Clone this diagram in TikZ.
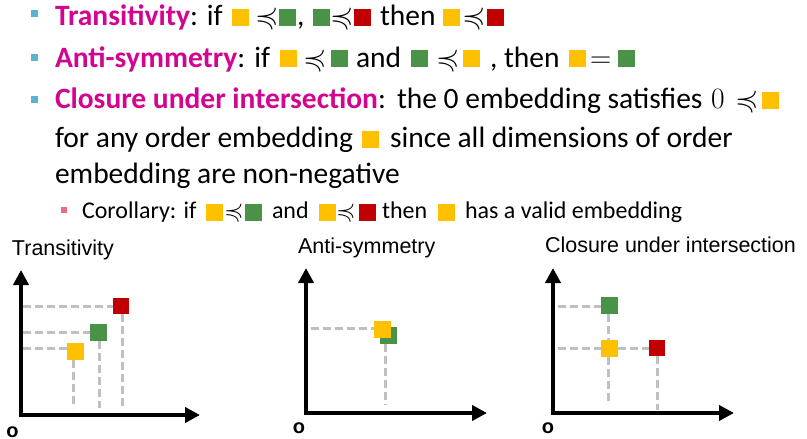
\RequirePackage{fix-cm}
\documentclass[tikz,border=0pt]{standalone}
\usepackage{fontspec}
\usepackage{amssymb}
\DeclareFontFamily{U}{msa}{}
\DeclareFontShape{U}{msa}{m}{n}{<-> msam10}{}
\setmainfont{Carlito}
\newfontfamily\arialf{Liberation Sans}
\usetikzlibrary{arrows.meta}
\definecolor{cyel}{HTML}{FFC000}
\definecolor{cgrn}{HTML}{4A9248}
\definecolor{cred}{HTML}{C00000}
\definecolor{cmag}{HTML}{D1058F}
\definecolor{cbul}{HTML}{5AB4CF}
\definecolor{csub}{HTML}{E8707E}
\definecolor{cdash}{HTML}{C0C0C0}
\newcommand{\pcq}{$\preccurlyeq$}
\tikzset{
 mtxt/.style={anchor=base west, inner sep=0pt, outer sep=0pt, font=\fontsize{29.5}{35}\selectfont},
 stxt/.style={anchor=base west, inner sep=0pt, outer sep=0pt, font=\fontsize{24}{29}\selectfont},
 mrel/.style={anchor=base west, inner sep=0pt, outer sep=0pt, font=\fontsize{30}{36}\selectfont},
 srel/.style={anchor=base west, inner sep=0pt, outer sep=0pt, font=\fontsize{25}{30}\selectfont},
 dtxt/.style={anchor=base west, inner sep=0pt, outer sep=0pt, font=\arialf\fontsize{21.5}{26}\selectfont},
 olab/.style={inner sep=0pt, font=\arialf\bfseries\fontsize{20}{24}\selectfont},
 sqm/.style={rectangle, inner sep=0pt, outer sep=0pt, minimum width=16.5pt, minimum height=17pt, anchor=south west},
 sqs/.style={rectangle, inner sep=0pt, outer sep=0pt, minimum size=17pt, anchor=south west},
 sqd/.style={rectangle, inner sep=0pt, outer sep=0pt, minimum size=17pt},
 bul/.style={rectangle, inner sep=0pt, minimum size=7pt, fill=cbul},
 subbul/.style={rectangle, inner sep=0pt, minimum size=6pt, fill=csub},
 axis/.style={line width=4pt, {Triangle[width=15pt,length=15pt]}-{Triangle[width=15pt,length=15pt]}},
 guide/.style={draw=cdash, line width=3pt, dash pattern=on 8pt off 4pt},
}
\begin{document}
\begin{tikzpicture}[x=1pt,y=-1pt]
\useasboundingbox (0,0) rectangle (807,439);
% ---------- bullets
\node[bul] (b1) at (34.5,13.5) {};
\node[bul] (b2) at (34.5,57.5) {};
\node[bul] (b3) at (34.5,99) {};
\node[subbul] (b4) at (64,210) {};
% ---------- line 1
\node[mtxt] (l1a) at (55,25) {\textcolor{cmag}{\bfseries Transitivity}: if};
\node[sqm,fill=cyel] (l1s1) at (232,26) {};
\node[mrel] (l1p1) at (255,25) {\pcq};
\node[sqm,fill=cgrn] (l1s2) at (279,26) {};
\node[mtxt] (l1c) at (297,25) {,};
\node[sqm,fill=cgrn] (l1s3) at (313,26) {};
\node[mrel] (l1p2) at (330,25) {\pcq};
\node[sqm,fill=cred] (l1s4) at (354,26) {};
\node[mtxt] (l1t) at (380,25) {then};
\node[sqm,fill=cyel] (l1s5) at (443,26) {};
\node[mrel] (l1p3) at (462,25) {\pcq};
\node[sqm,fill=cred] (l1s6) at (487,26) {};
% ---------- line 2
\node[mtxt] (l2a) at (55,67) {\textcolor{cmag}{\bfseries Anti-symmetry}: if};
\node[sqm,fill=cyel] (l2s1) at (280,67) {};
\node[mrel] (l2p1) at (303,67) {\pcq};
\node[sqm,fill=cgrn] (l2s2) at (331,67) {};
\node[mtxt] (l2b) at (356,67) {and};
\node[sqm,fill=cgrn] (l2s3) at (411,67) {};
\node[mrel] (l2p2) at (436,67) {\pcq};
\node[sqm,fill=cyel] (l2s4) at (463,67) {};
\node[mtxt] (l2c) at (490,67) {, then};
\node[sqm,fill=cyel] (l2s5) at (569,67) {};
\node[mtxt] (l2e) at (590,67) {$=$};
\node[sqm,fill=cgrn] (l2s6) at (618,67) {};
% ---------- line 3-5
\node[mtxt] (l3a) at (55,108) {\textcolor{cmag}{\bfseries Closure under intersection}:};
\node[mtxt] (l3b) at (397,108) {the 0 embedding satisfies};
\node[mtxt] (l3z) at (711,108) {$0$};
\node[mrel] (l3p) at (735,108) {\pcq};
\node[sqm,fill=cyel] (l3s) at (762,109) {};
\node[mtxt] (l4a) at (55,147) {for any order embedding};
\node[sqm,fill=cyel] (l4s) at (362,148) {};
\node[mtxt] (l4b) at (390,147) {since all dimensions of order};
\node[mtxt] (l5a) at (55,183) {embedding are non-negative};
% ---------- corollary
\node[stxt] (l6a) at (82,218) {Corollary: if};
\node[sqs,fill=cyel] (l6s1) at (206,221) {};
\node[srel] (l6p1) at (224,218) {\pcq};
\node[sqs,fill=cgrn] (l6s2) at (245,221) {};
\node[stxt] (l6b) at (272,218) {and};
\node[sqs,fill=cyel] (l6s3) at (319,221) {};
\node[srel] (l6p2) at (336,218) {\pcq};
\node[sqs,fill=cred] (l6s4) at (359,221) {};
\node[stxt] (l6c) at (382,218) {then};
\node[sqs,fill=cyel] (l6s5) at (438,221) {};
\node[stxt] (l6d) at (465,218) {has a valid embedding};
% ---------- diagram titles
\node[dtxt] (t1) at (12,255) {Transitivity};
\node[dtxt] (t2) at (298,253) {Anti-symmetry};
\node[dtxt] (t3) at (545,252) {Closure under intersection};
% ---------- diagram 1
\coordinate (o1) at (21,415);
\coordinate (u1) at (21,270);
\coordinate (r1) at (200,415);
\draw[axis] (u1) -- (o1) -- (r1);
\node[olab] (ol1) at (12.5,432) {o};
\node[sqd,fill=cyel] (d1y) at (75.5,351.5) {};
\node[sqd,fill=cgrn] (d1g) at (98.5,332.5) {};
\node[sqd,fill=cred,minimum size=16pt] (d1r) at (121,306) {};
\coordinate (h1r) at (23,306);
\coordinate (v1r) at (122,408);
\coordinate (h1g) at (23,332);
\coordinate (v1g) at (99,408);
\coordinate (h1y) at (23,348);
\coordinate (v1y) at (73,408);
\draw[guide] (h1r) -- (h1r -| d1r.west);
\draw[guide] (v1r |- d1r.south) -- (v1r);
\draw[guide] (h1g) -- (h1g -| d1g.west);
\draw[guide] (v1g |- d1g.south) -- (v1g);
\draw[guide] (h1y) -- (h1y -| d1y.west);
\draw[guide] (v1y |- d1y.south) -- (v1y);
% ---------- diagram 2
\coordinate (o2) at (306,413);
\coordinate (u2) at (306,268);
\coordinate (r2) at (487,413);
\draw[axis] (u2) -- (o2) -- (r2);
\node[olab] (ol2) at (299,428) {o};
\node[sqd,fill=cgrn] (d2g) at (388,335.5) {};
\node[sqd,fill=cyel] (d2y) at (382.5,329.5) {};
\coordinate (h2) at (311,328);
\coordinate (v2) at (385,405);
\draw[guide] (h2) -- (h2 -| d2y.west);
\draw[guide] (v2 |- d2g.south) -- (v2);
% ---------- diagram 3
\coordinate (o3) at (553,413);
\coordinate (u3) at (553,268);
\coordinate (r3) at (734,413);
\draw[axis] (u3) -- (o3) -- (r3);
\node[olab] (ol3) at (548,428) {o};
\node[sqd,fill=cgrn] (d3g) at (609.5,305.5) {};
\node[sqd,fill=cyel] (d3y) at (609.5,348.5) {};
\node[sqd,fill=cred,minimum size=16.5pt] (d3r) at (657,348) {};
\coordinate (h3g) at (558,306);
\coordinate (h3y) at (558,348);
\coordinate (v3y) at (608,405);
\coordinate (v3r) at (657,410);
\draw[guide] (h3g) -- (h3g -| d3g.west);
\draw[guide] (v3y |- d3g.south) -- (v3y |- d3y.north);
\draw[guide] (h3y) -- (h3y -| d3y.west);
\draw[guide] (h3y -| d3y.east) -- (h3y -| d3r.west);
\draw[guide] (v3y |- d3y.south) -- (v3y);
\draw[guide] (v3r |- d3r.south) -- (v3r);
\end{tikzpicture}
\end{document}
